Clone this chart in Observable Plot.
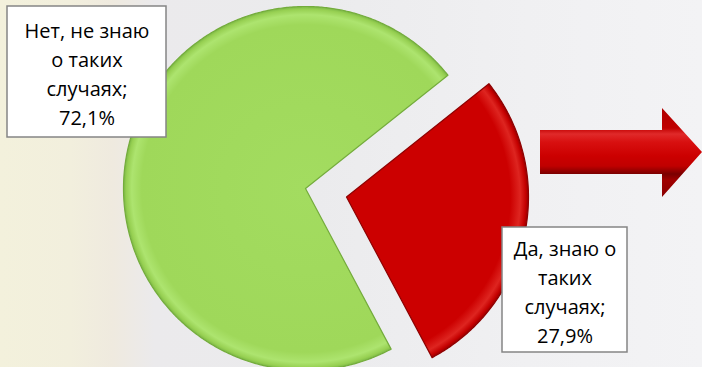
<!DOCTYPE html>
<html><head><meta charset="utf-8">
<script src="https://cdn.jsdelivr.net/npm/d3@7"></script>
<script src="https://cdn.jsdelivr.net/npm/@observablehq/plot@0.6"></script>
<style>
html,body{margin:0;padding:0;}
body{width:702px;height:367px;overflow:hidden;position:relative;
background:linear-gradient(to right,#f3f1dc 0%,#f2efdd 10%,#efeadf 16%,#ebeaec 22%,#ebebed 45%,#f0f0f2 75%,#f3f3f5 100%);}
#chart{position:absolute;left:0;top:0;}
#arrow{position:absolute;left:540px;top:108px;width:162px;height:89px;
clip-path:polygon(0px 22px,122px 22px,122px 0px,162px 44px,122px 89px,122px 66px,0px 66px);
background:linear-gradient(to bottom,#b00000 0px,#c00000 20px,#e02a2a 26px,#d81010 34px,#cc0000 48px,#c00000 58px,#7a0000 66px,#a00000 72px,#8a0000 89px);}
</style></head><body>
<div id="chart"></div><div id="arrow"></div>
<script>
// ---- data ----
const categories = ["Да, знаю о\nтаких\nслучаях", "Нет, не знаю\nо таких\nслучаях"];
const values = [27.9, 72.1];
const explodeFrac = [0.23, 0];

// ---- styles / layout ----
const W = 702, H = 367;
const cx = 305, cy = 188, R = 182;
const startDeg = 51.5;
const fills = ["url(#gRed)", "url(#gGreen)"];
const strokes = ["#8e0000", "#74ac3c"];
const boxes = [
  {cx: 564.5, cy: 289.5, w: 125, h: 125},
  {cx: 86.5, cy: 71.5, w: 159, h: 131}
];

const fmt = v => d3.format(".1f")(v).replace(".", ",") + "%";
const rows = categories.map((c, i) => ({cat: c, value: values[i], label: c + ";\n" + fmt(values[i]), i}));

const start = startDeg * Math.PI / 180;
const arcs = d3.pie().sort(null).value(d => d.value).startAngle(start).endAngle(start + 2 * Math.PI)(rows);

const slices = arcs.map((a, i) => {
  const mid = (a.startAngle + a.endAngle) / 2;
  const ox = explodeFrac[i] * Math.sin(mid), oy = explodeFrac[i] * Math.cos(mid);
  const n = Math.ceil((a.endAngle - a.startAngle) / (Math.PI / 360));
  const pts = [{x: ox, y: oy}];
  for (let k = 0; k <= n; k++) {
    const t = a.startAngle + (a.endAngle - a.startAngle) * k / n;
    pts.push({x: ox + Math.sin(t), y: oy + Math.cos(t)});
  }
  return {pts, ox, oy, row: a.data};
});

const chart = Plot.plot({
  width: W, height: H,
  margin: 0,
  style: {background: "transparent", overflow: "visible"},
  x: {domain: [-1, 1], range: [cx - R, cx + R], axis: null},
  y: {domain: [-1, 1], range: [cy + R, cy - R], axis: null},
  marks: [
    ...slices.map((s, i) => Plot.line(s.pts, {x: "x", y: "y", curve: "linear-closed", fill: fills[i], stroke: strokes[i], strokeWidth: 1.2})),
    Plot.text(rows, {
      x: (d) => 0, y: (d) => 0,
      text: "label",
      lineAnchor: "middle", textAnchor: "middle",
      fontSize: 20, lineHeight: 1.45, fill: "#000",
      fontFamily: "'Open Sans', sans-serif"
    })
  ]
});

const sel = d3.select(chart);
const xS = chart.scale("x"), yS = chart.scale("y");
const defs = sel.insert("defs", ":first-child");
function radial(id, ccx, ccy, stops) {
  const g = defs.append("radialGradient").attr("id", id).attr("gradientUnits", "userSpaceOnUse")
    .attr("cx", ccx).attr("cy", ccy).attr("r", R);
  stops.forEach(([o, c]) => g.append("stop").attr("offset", o).attr("stop-color", c));
}
radial("gGreen", xS.apply(slices[1].ox), yS.apply(slices[1].oy),
  [[0, "#a3dc60"], [0.9, "#9fd85a"], [0.955, "#ade46f"], [0.985, "#97d052"], [1, "#7cb846"]]);
radial("gRed", xS.apply(slices[0].ox), yS.apply(slices[0].oy),
  [[0, "#cc0000"], [0.9, "#cc0000"], [0.955, "#de2520"], [0.985, "#c40000"], [1, "#950000"]]);

// label boxes (layout)
const textG = sel.select('g[aria-label="text"]');
const boxG = sel.insert("g", 'g[aria-label="text"]');
textG.selectAll("text").each(function(d, j) {
  const b = boxes[j];
  d3.select(this).attr("transform", `translate(${b.cx},${b.cy})`).attr("x", null).attr("y", null);
  boxG.append("rect").attr("x", b.cx - b.w / 2).attr("y", b.cy - b.h / 2)
    .attr("width", b.w).attr("height", b.h).attr("fill", "#fff")
    .attr("stroke", "#858585").attr("stroke-width", 1.5);
});

document.getElementById("chart").appendChild(chart);
</script>
</body></html>
